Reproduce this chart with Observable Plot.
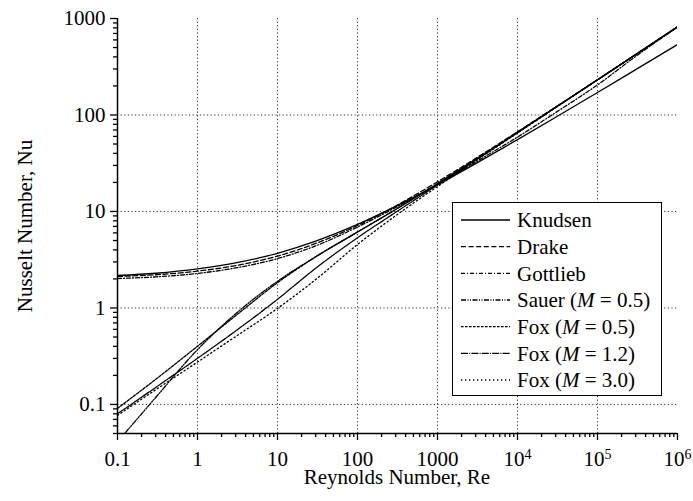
<!DOCTYPE html>
<html><head><meta charset="utf-8">
<script src="https://cdn.jsdelivr.net/npm/d3@7"></script>
<script src="https://cdn.jsdelivr.net/npm/@observablehq/plot@0.6"></script>
<style>
body{margin:0;background:#fff;}
</style>
</head><body><div id="chart"></div>
<script>
// Reynolds numbers at which values were read
const re = [0.1, 0.3, 1, 3, 10, 30, 100, 300, 1000, 3000, 1e4, 3e4, 1e5, 3e5, 1e6];
// Nusselt number series
const knudsen  = [2.17, 2.29, 2.54, 2.93, 3.69, 4.93, 7.35, 11.3, 18.9, 31.3, 55.5, 94.7, 171, 295, 537];
const drake    = [2.12, 2.21, 2.41, 2.75, 3.45, 4.66, 7.16, 11.4, 20.3, 35.5, 67.0, 121, 232, 424, 820];
const gottlieb = [2.02, 2.10, 2.28, 2.60, 3.25, 4.40, 6.90, 11.0, 19.0, 32.5, 59.0, 106, 205, 405, 815];
const sauer05  = [0.041, 0.118, 0.37, 0.87, 1.89, 3.39, 6.11, 10.5, 19.4, 34.5, 65.9, 120, 231, 422, 818];
const fox05    = [0.091, 0.182, 0.401, 0.831, 1.83, 3.39, 6.14, 10.5, 19.5, 34.7, 66.2, 120, 232, 423, 819];
const fox12    = [0.080, 0.150, 0.301, 0.578, 1.23, 2.58, 5.34, 9.80, 18.8, 34.0, 65.5, 120, 231, 423, 819];
const fox30    = [0.077, 0.142, 0.275, 0.506, 0.99, 1.97, 4.54, 9.04, 18.1, 33.4, 65.0, 119, 231, 422, 818];

const seriesNames = ["Knudsen", "Drake", "Gottlieb", "Sauer (M = 0.5)", "Fox (M = 0.5)", "Fox (M = 1.2)", "Fox (M = 3.0)"];
const seriesValues = [knudsen, drake, gottlieb, sauer05, fox05, fox12, fox30];
const seriesDash = [null, "5,2.6", "4,2,1,2", "5,1.5,1,1.5,1,1.5", "2.6,1.4", "7,1.2,1,1.2", "1.3,2.7"];

const xTicks = [0.1, 1, 10, 100, 1000, 1e4, 1e5, 1e6];
const xTickLabels = ["0.1", "1", "10", "100", "1000", "10^4", "10^5", "10^6"];
const yTicks = [0.1, 1, 10, 100, 1000];
const yTickLabels = ["0.1", "1", "10", "100", "1000"];
const xGrid = [1, 10, 100, 1000, 1e4, 1e5];
const yGrid = [0.1, 1, 10, 100];

const xMinor = [];
for (const d of [0.1, 1, 10, 100, 1000, 1e4, 1e5]) for (let k = 2; k <= 9; k++) xMinor.push(+(d * k).toPrecision(3));
const yMinor = [0.05, 0.06, 0.07, 0.08, 0.09];
for (const d of [0.1, 1, 10, 100]) for (let k = 2; k <= 9; k++) yMinor.push(+(d * k).toPrecision(3));

const xLab = new Map(xTicks.map((t, i) => [t, xTickLabels[i]]));
const yLab = new Map(yTicks.map((t, i) => [t, yTickLabels[i]]));

const FONT = "'Liberation Serif', serif";

const lineMarks = seriesValues.map((vals, s) =>
  Plot.line(re.map((r, i) => ({Re: r, Nu: vals[i]})), {
    x: "Re", y: "Nu", stroke: "black", strokeWidth: 1.3,
    strokeDasharray: seriesDash[s] || undefined, curve: "monotone-x", clip: true
  })
);

const plot = Plot.plot({
  width: 693, height: 501,
  marginLeft: 117, marginRight: 16, marginTop: 18, marginBottom: 68,
  x: {type: "log", domain: [0.1, 1e6]},
  y: {type: "log", domain: [0.05, 1000]},
  style: {fontFamily: FONT, fontSize: "21px", color: "#000", background: "#fff"},
  marks: [
    Plot.ruleX(xGrid, {stroke: "#333", strokeDasharray: "1.2,2.4", strokeWidth: 1}),
    Plot.ruleY(yGrid, {stroke: "#333", strokeDasharray: "1.2,2.4", strokeWidth: 1}),
    ...lineMarks,
    Plot.axisX({ticks: xMinor, tickSize: 4, tickFormat: () => "", label: null, strokeWidth: 1.3}),
    Plot.axisX({ticks: xTicks, tickSize: 7, tickPadding: 11, tickFormat: d => xLab.get(d), label: null, fontSize: 21, strokeWidth: 1.3}),
    Plot.axisY({ticks: yMinor, tickSize: 4, tickFormat: () => "", label: null, strokeWidth: 1.3}),
    Plot.axisY({ticks: yTicks, tickSize: 7, tickPadding: 5, tickFormat: d => yLab.get(d), label: null, fontSize: 21, strokeWidth: 1.3}),
    Plot.ruleX([0.1], {stroke: "black", strokeWidth: 1.5}),
    Plot.ruleY([0.05], {stroke: "black", strokeWidth: 1.5})
  ]
});

const svg = d3.select(plot);
svg.attr("font-family", FONT).style("font-family", FONT);
// superscript exponents on x tick labels
svg.selectAll("text").each(function() {
  const t = d3.select(this);
  if (t.select("tspan").size() === 0) {
    const s = t.text();
    if (s.includes("^")) {
      const [b, e] = s.split("^");
      t.text(null);
      t.append("tspan").text(b);
      t.append("tspan").attr("dy", "-0.5em").attr("font-size", "14px").text(e);
    }
  }
});

// axis titles
svg.append("text").attr("x", 397).attr("y", 484).attr("text-anchor", "middle")
  .attr("font-size", 21).attr("fill", "black").text("Reynolds Number, Re");
svg.append("text").attr("transform", "translate(32,226) rotate(-90)").attr("text-anchor", "middle")
  .attr("font-size", 21).attr("fill", "black").text("Nusselt Number, Nu");

// legend
const lg = svg.append("g");
lg.append("rect").attr("x", 452.5).attr("y", 202.5).attr("width", 209).attr("height", 193)
  .attr("fill", "white").attr("stroke", "black").attr("stroke-width", 1);
seriesNames.forEach((name, i) => {
  const y = 220 + i * 26.67;
  lg.append("line").attr("x1", 461).attr("x2", 510).attr("y1", y).attr("y2", y)
    .attr("stroke", "black").attr("stroke-width", 1.3)
    .attr("stroke-dasharray", seriesDash[i] || null);
  const t = lg.append("text").attr("x", 517).attr("y", y).attr("dy", "0.35em")
    .attr("text-anchor", "start").attr("font-size", 21).attr("fill", "black");
  const m = name.match(/^(.*\()M( = .*)$/);
  if (m) {
    t.append("tspan").text(m[1]);
    t.append("tspan").attr("font-style", "italic").text("M");
    t.append("tspan").text(m[2]);
  } else t.text(name);
});

// make every text use the serif face explicitly
svg.selectAll("text, tspan").style("font-family", FONT);

document.getElementById("chart").appendChild(plot);
</script>
</body></html>
